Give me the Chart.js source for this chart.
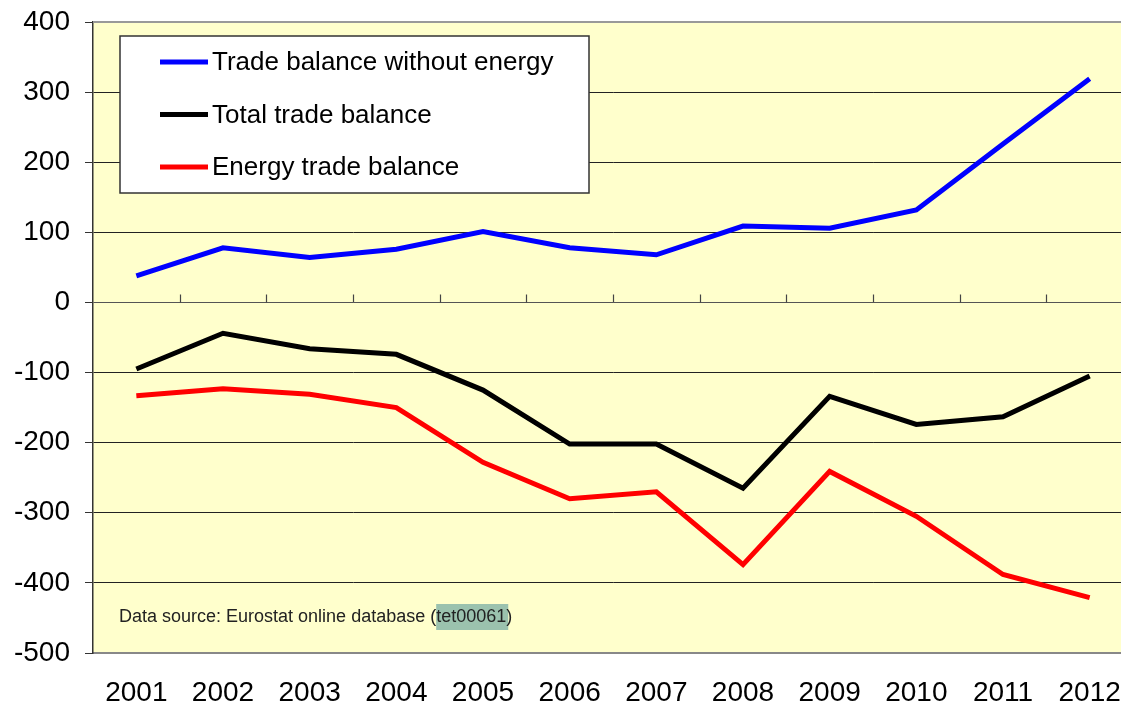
<!DOCTYPE html>
<html lang="en">
<head>
    <meta charset="UTF-8">
    <title>Trade balance</title>
    <script src="https://cdn.jsdelivr.net/npm/chart.js"></script>
    <style>
        html, body { margin: 0; padding: 0; background: #fff; overflow: hidden; }
        #wrap { width: 1140px; height: 709px; }
    </style>
</head>
<body>
    <div id="wrap"><canvas id="tradeChart"></canvas></div>

    <script>
        // data (bn EUR)
        const years = ['2001', '2002', '2003', '2004', '2005', '2006', '2007', '2008', '2009', '2010', '2011', '2012'];
        const withoutEnergy = [38, 78, 64, 76, 101, 78, 68, 109, 106, 132, 226, 319];
        const totalBalance = [-95, -44, -66, -74, -125, -202, -202, -265, -134, -174, -163, -105];
        const energyBalance = [-133, -123, -131, -150, -228, -280, -270, -374, -241, -305, -388, -421];
        const yTicks = { min: -500, max: 400, step: 100 };
        const sourceText = 'Data source: Eurostat online database (';
        const sourceCode = 'tet00061';

        const FONT = '"Liberation Sans", Arial, sans-serif';

        // yellow plot background + top border
        const plotBg = {
            id: 'plotBg',
            beforeDraw(chart) {
                const { ctx, chartArea: a } = chart;
                ctx.save();
                ctx.fillStyle = '#FFFFCC';
                ctx.fillRect(a.left, a.top, a.right - a.left, a.bottom - a.top);
                ctx.restore();
            },
            afterDatasetsDraw(chart) {
                const { ctx, chartArea: a } = chart;
                ctx.save();
                ctx.strokeStyle = '#999';
                ctx.lineWidth = 2;
                ctx.beginPath();
                ctx.moveTo(a.left, a.top);
                ctx.lineTo(a.right, a.top);
                ctx.stroke();
                ctx.restore();
            }
        };

        // small ticks on the zero line between categories
        const zeroTicks = {
            id: 'zeroTicks',
            beforeDatasetsDraw(chart) {
                const { ctx, scales: { x, y } } = chart;
                const y0 = y.getPixelForValue(0);
                const half = (x.getPixelForValue(1) - x.getPixelForValue(0)) / 2;
                ctx.save();
                ctx.strokeStyle = '#444';
                ctx.lineWidth = 1.2;
                ctx.beginPath();
                for (let i = 1; i < years.length; i++) {
                    const px = Math.round(x.getPixelForValue(i) - half) + 0.5;
                    ctx.moveTo(px, y0);
                    ctx.lineTo(px, y0 - 8);
                }
                ctx.stroke();
                ctx.restore();
            }
        };

        // legend box inside the plot + source note
        const boxLegend = {
            id: 'boxLegend',
            afterDatasetsDraw(chart) {
                const { ctx, chartArea: a } = chart;
                const left = a.left + 27, top = a.top + 14, w = 469, h = 157;
                ctx.save();
                ctx.fillStyle = '#fff';
                ctx.fillRect(left, top, w, h);
                ctx.strokeStyle = '#333';
                ctx.lineWidth = 1.5;
                ctx.strokeRect(left, top, w, h);

                ctx.font = '26px ' + FONT;
                ctx.textBaseline = 'middle';
                chart.data.datasets.forEach((ds, i) => {
                    const cy = top + 26 + i * 52.5;
                    ctx.strokeStyle = ds.borderColor;
                    ctx.lineWidth = 5;
                    ctx.beginPath();
                    ctx.moveTo(left + 40, cy);
                    ctx.lineTo(left + 88, cy);
                    ctx.stroke();
                    ctx.fillStyle = '#000';
                    ctx.fillText(ds.label, left + 92, cy + 1);
                });

                // source note
                ctx.font = '18px ' + FONT;
                const sx = a.left + 26, sy = a.bottom - 36;
                const w1 = ctx.measureText(sourceText).width;
                const w2 = ctx.measureText(sourceCode).width;
                ctx.fillStyle = '#9BC2AE';
                ctx.fillRect(sx + w1, sy - 13, w2 + 2, 26);
                ctx.fillStyle = '#222';
                ctx.fillText(sourceText + sourceCode + ')', sx, sy);
                ctx.restore();
            }
        };

        const ctx = document.getElementById('tradeChart').getContext('2d');
        new Chart(ctx, {
            type: 'line',
            data: {
                labels: years,
                datasets: [
                    { label: 'Trade balance without energy', data: withoutEnergy, borderColor: '#0000FF' },
                    { label: 'Total trade balance', data: totalBalance, borderColor: '#000000' },
                    { label: 'Energy trade balance', data: energyBalance, borderColor: '#FF0000' }
                ]
            },
            options: {
                responsive: true,
                maintainAspectRatio: false,
                animation: false,
                layout: { autoPadding: false, padding: { left: 14, right: 7, top: 22, bottom: 0 } },
                elements: {
                    line: { borderWidth: 5, tension: 0, borderJoinStyle: 'miter' },
                    point: { radius: 0, hoverRadius: 0 }
                },
                plugins: {
                    legend: { display: false },
                    tooltip: { enabled: false }
                },
                scales: {
                    x: {
                        offset: true,
                        afterFit: s => { s.height = 56; s.paddingLeft = 0; s.paddingRight = 0; },
                        grid: { display: false, drawTicks: false },
                        border: { color: '#888', width: 2 },
                        ticks: {
                            color: '#000',
                            padding: 23,
                            font: { family: FONT, size: 28 },
                            maxRotation: 0
                        }
                    },
                    y: {
                        min: yTicks.min,
                        max: yTicks.max,
                        afterFit: s => { s.width = 79; s.paddingTop = 0; s.paddingBottom = 0; },
                        grid: {
                            color: c => (c.tick && c.tick.value === 0) ? '#555' : '#222',
                            lineWidth: 1,
                            tickLength: 8,
                            tickColor: '#333'
                        },
                        border: { color: '#333', width: 1.5 },
                        ticks: {
                            stepSize: yTicks.step,
                            color: '#000',
                            padding: 15,
                            font: { family: FONT, size: 28 }
                        }
                    }
                }
            },
            plugins: [plotBg, zeroTicks, boxLegend]
        });
    </script>
</body>
</html>
